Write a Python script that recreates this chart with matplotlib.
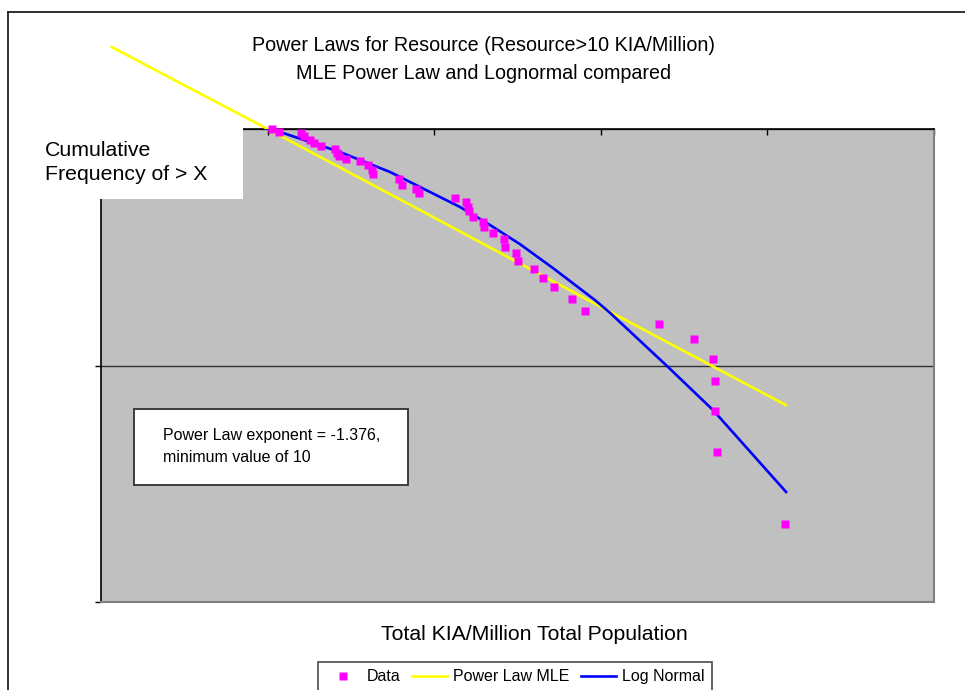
import matplotlib

matplotlib.use("Agg")
import matplotlib.pyplot as plt
from matplotlib.lines import Line2D
from matplotlib.patches import Rectangle

plt.rcParams["font.family"] = ["Liberation Sans", "DejaVu Sans"]

W, H = 965, 690

data_x = [10.6, 11.7, 15.9, 16.6, 18.0, 19.1, 20.8, 25.4, 26.0, 26.8, 29.4,
          35.7, 40.2, 42.3, 43.1, 61.7, 63.8, 78.1, 80.7, 133.9, 155.2, 158.9,
          161.1, 170.3, 197.1, 199.8, 226.3, 262.4, 266.1, 308.5, 319.8, 397.2,
          449.9, 521.6, 668.9, 803.8, 2245, 3626, 4735, 4827, 4827, 4983, 12755]
data_y = [1.0, 0.974, 0.965, 0.934, 0.899, 0.870, 0.847, 0.823, 0.789, 0.771,
          0.747, 0.730, 0.702, 0.671, 0.643, 0.615, 0.581, 0.556, 0.536, 0.511,
          0.491, 0.469, 0.450, 0.426, 0.406, 0.384, 0.362, 0.344, 0.318, 0.299,
          0.277, 0.256, 0.235, 0.215, 0.191, 0.170, 0.150, 0.129, 0.1066,
          0.0857, 0.0640, 0.0430, 0.0214]

# MLE power law fit
pl_x = [1.16, 10, 100, 1000, 12900]
pl_y = [2.22, 1.0, 0.422, 0.177, 0.068]

# lognormal fit
ln_x = [10, 11.9, 27.2, 54.3, 142.8, 207.5, 327, 517, 923, 1136, 2531, 4715, 12940]
ln_y = [1.0, 0.971, 0.799, 0.658, 0.468, 0.400, 0.326, 0.258, 0.189, 0.167,
        0.0986, 0.0648, 0.0292]


def fx(px):
    return px / W


def fy(py):
    return 1 - py / H


fig = plt.figure(figsize=(W / 100, H / 100), dpi=100)
ax = fig.add_axes([fx(101), fy(602), (934 - 101) / W, (602 - 129) / H])
ax.set_facecolor("#c0c0c0")
ax.set_xscale("log")
ax.set_yscale("log")
ax.set_xlim(1, 1e5)
ax.set_ylim(0.01, 1)

ax.plot(pl_x, pl_y, color="#ffff00", lw=1.9, clip_on=False, zorder=3,
        label="Power Law MLE")
ax.plot(ln_x, ln_y, color="#0000ff", lw=1.9, zorder=3, label="Log Normal")
ax.plot(data_x, data_y, "s", color="#ff00ff", ms=5.2, mec="none",
        clip_on=False, zorder=4, label="Data")

ax.xaxis.tick_top()
ax.tick_params(axis="x", which="major", direction="in", length=4, width=1,
               labeltop=False, labelbottom=False)
ax.tick_params(axis="y", which="major", direction="out", length=4, width=1,
               labelleft=False)
ax.tick_params(which="minor", length=0)
ax.yaxis.grid(True, color="#303030", lw=1)
ax.set_axisbelow(True)
for side in ("top", "left"):
    ax.spines[side].set_color("black")
    ax.spines[side].set_linewidth(1.2)
for side in ("bottom", "right"):
    ax.spines[side].set_color("#808080")
    ax.spines[side].set_linewidth(1.5)

# outer chart frame (only top and left edges show)
fig.add_artist(Line2D([fx(8), fx(8)], [fy(12), 0], color="#202020", lw=1.3))
fig.add_artist(Line2D([fx(8), 1], [fy(12), fy(12)], color="#202020", lw=1.3))

# white box behind the y label, sitting over the plot corner
fig.add_artist(Rectangle((fx(30), fy(198.5)), fx(243) - fx(30),
                         fy(124) - fy(198.5), facecolor="white",
                         edgecolor="none", zorder=2))
fig.text(fx(45), fy(155.5), "Cumulative", fontsize=15.3, va="baseline", zorder=3)
fig.text(fx(45), fy(179.5), "Frequency of > X", fontsize=15.3, va="baseline",
         zorder=3)

fig.text(fx(483.5), fy(51), "Power Laws for Resource (Resource>10 KIA/Million)",
         fontsize=14.2, ha="center", va="baseline")
fig.text(fx(483.5), fy(79), "MLE Power Law and Lognormal compared",
         fontsize=14.2, ha="center", va="baseline")
fig.text(fx(534.5), fy(640), "Total KIA/Million Total Population",
         fontsize=15.3, ha="center", va="baseline")

# annotation box
fig.add_artist(Rectangle((fx(134), fy(485)), fx(408) - fx(134),
                         fy(409) - fy(485), facecolor="white",
                         edgecolor="#303030", lw=1.3, zorder=2))
fig.text(fx(163), fy(440), "Power Law exponent = -1.376,", fontsize=11.5,
         va="baseline", zorder=3)
fig.text(fx(163), fy(462), "minimum value of 10", fontsize=11.5,
         va="baseline", zorder=3)

h, l = ax.get_legend_handles_labels()
order = [2, 0, 1]
leg = fig.legend([h[i] for i in order], [l[i] for i in order], ncol=3,
                 loc="upper left", bbox_to_anchor=(fx(318), fy(662)),
                 borderaxespad=0, fontsize=11.5, frameon=True, fancybox=False,
                 edgecolor="#303030", handlelength=2.2, handletextpad=0.4,
                 columnspacing=0.7, borderpad=0.45, markerscale=1.15)
leg.get_frame().set_linewidth(1.3)

fig.savefig("out.png", dpi=100, facecolor="white")
